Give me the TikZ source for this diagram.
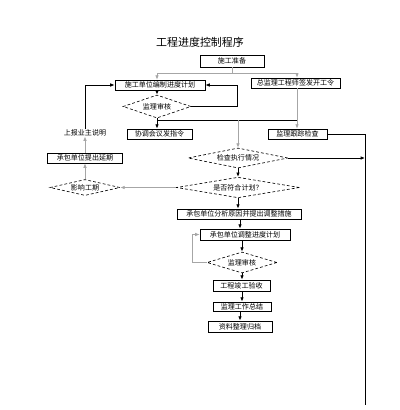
\documentclass[tikz,border=0pt]{standalone}
\usepackage{fontspec}
\newfontfamily\cjk{Noto Sans CJK SC}
\usetikzlibrary{shapes.geometric,arrows.meta,calc}
\tikzset{
  box/.style={draw=black,line width=0.5pt,rectangle,inner sep=0pt,font=\cjk\fontsize{5}{6}\selectfont},
  dia/.style={draw=black,dashed,dash pattern=on 2pt off 1.5pt,line width=0.45pt,diamond,aspect=4,inner sep=0.5pt,font=\cjk\fontsize{5}{6}\selectfont},
  plain/.style={inner sep=0pt,font=\cjk\fontsize{5}{6}\selectfont},
  ln/.style={draw=black,line width=0.6pt},
  gl/.style={draw=gray!70,line width=0.5pt},
  arr/.style={-{Latex[length=1.1mm,width=0.9mm]}}
}
\begin{document}
\begin{tikzpicture}[x=0.025cm,y=-0.025cm]
\useasboundingbox[fill=white] (0,0) rectangle (400,410);
\node[plain,font=\cjk\fontsize{7.8}{9}\selectfont] (title) at (200,42) {工程进度控制程序};
% boxes
\node[box,minimum width=1.6cm,minimum height=0.3cm] (prep) at (232,61) {施工准备};
\node[box,minimum width=2.25cm,minimum height=0.25cm] (plan) at (160,85) {施工单位编制进度计划};
\node[box,minimum width=2.225cm,minimum height=0.25cm] (start) at (295.5,83) {总监理工程师签发开工令};
\node[dia,minimum width=1.7cm,minimum height=0.575cm] (rev1) at (157,106.5) {监理审核};
\node[box,minimum width=1.625cm,minimum height=0.25cm] (meet) at (159.5,134) {协调会议发指令};
\node[box,minimum width=1.475cm,minimum height=0.25cm] (track) at (297.5,134) {监理跟踪检查};
\node[plain] (report) at (85,133) {上报业主说明};
\node[box,minimum width=1.875cm,minimum height=0.25cm] (ext) at (85,158) {承包单位提出延期};
\node[dia,minimum width=1.75cm,minimum height=0.4cm] (infl) at (85,187.5) {影响工期};
\node[dia,minimum width=2.5cm,minimum height=0.5cm] (chk) at (238,158) {检查执行情况};
\node[dia,minimum width=3.075cm,minimum height=0.45cm] (ok) at (238,187.5) {是否符合计划？};
\node[box,minimum width=3.1cm,minimum height=0.25cm] (wide) at (239,214) {承包单位分析原因并提出调整措施};
\node[box,minimum width=2.25cm,minimum height=0.275cm] (adj) at (245,234.5) {承包单位调整进度计划};
\node[dia,minimum width=1.75cm,minimum height=0.525cm] (rev2) at (242,262.5) {监理审核};
\node[box,minimum width=1.425cm,minimum height=0.275cm] (acc) at (241.5,285.5) {工程竣工验收};
\node[box,minimum width=1.45cm,minimum height=0.225cm] (sum) at (242,306.5) {监理工作总结};
\node[box,minimum width=1.6cm,minimum height=0.275cm] (arch) at (240,326.5) {资料整理归档};
% coordinates
\coordinate (j1) at (157,73);
\coordinate (j2) at (297,73);
\coordinate (j3) at (157,120);
\coordinate (j5) at (297,120);
\coordinate (j4) at (238,120);
\coordinate (c237) at (237,0);
\coordinate (c192) at (192,0);
\coordinate (rx) at (365,0);
\coordinate (rbot) at (365,405);
% connectors
\draw[gl] (prep.south) -- (prep.south |- j1);
\draw[gl] (j1) -- (j2);
\draw[gl,arr] (j1) -- (j1 |- plan.north);
\draw[gl,arr] (j2) -- (j2 |- start.north);
\draw[ln,arr] (plan.south -| rev1.north) -- (rev1.north);
\draw[ln,arr] (rev1.south) -- (rev1.south |- meet.north);
\draw[ln] (j3) -- (j5);
\draw[gl] (j2 |- start.south) -- (j5);
\draw[gl,arr] (j5) -- (j5 |- track.north);
\draw[gl,arr] (j4) -- (j4 |- chk.north);
\draw[ln,arr] (rev1.east) -- (rev1.east -| c237) -- (plan.east -| c237) -- (plan.east);
\draw[ln,arr] (report.north) -- (report.north |- plan.west) -- (plan.west);
\draw[gl,arr] (ext.north) -- (report.south);
\draw[gl,arr] (infl.north) -- (ext.south);
\draw[gl,arr] (ok.west) -- (infl.east);
\draw[ln,arr] (chk.east) -- (chk.east -| rx);
\draw[ln] (track.east) -- (track.east -| rx) -- (rbot);
\draw[ln,arr] (chk.south) -- (chk.south |- ok.north);
\draw[ln,arr] (ok.south) -- (ok.south |- wide.north);
\draw[ln,arr] (wide.south -| 240,0) -- (adj.north -| 240,0);
\draw[ln,arr] (adj.south -| rev2.north) -- (rev2.north);
\draw[gl,arr] (rev2.west) -- (rev2.west -| c192) -- (adj.west -| c192) -- (adj.west);
\draw[ln,arr] (rev2.south) -- (rev2.south |- acc.north);
\draw[ln,arr] (acc.south -| sum.north) -- (sum.north);
\draw[ln,arr] (sum.south -| arch.north) -- (arch.north);
\end{tikzpicture}
\end{document}
